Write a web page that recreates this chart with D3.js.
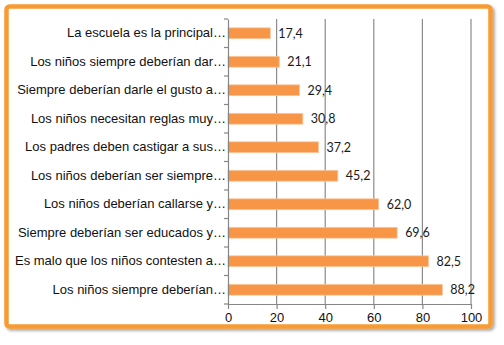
<!DOCTYPE html>
<html lang="es">
<head>
<meta charset="UTF-8">
<title>Bar chart</title>
<script src="https://d3js.org/d3.v7.min.js"></script>
<style>
  body { margin: 0; background: #fff; }
</style>
</head>
<body>
<svg width="504" height="345"></svg>
<script>
const categories = [
  "La escuela es la principal…",
  "Los niños siempre deberían dar…",
  "Siempre deberían darle el gusto a…",
  "Los niños necesitan reglas muy…",
  "Los padres deben castigar a sus…",
  "Los niños deberían ser siempre…",
  "Los niños deberían callarse y…",
  "Siempre deberían ser educados y…",
  "Es malo que los niños contesten a…",
  "Los niños siempre deberían…"
];
const values = [17.4, 21.1, 29.4, 30.8, 37.2, 45.2, 62.0, 69.6, 82.5, 88.2];
const xTicks = [0, 20, 40, 60, 80, 100];

const svg = d3.select("svg");
const margin = {left: 228, right: 33, top: 19, bottom: 41};
const W = 504, H = 345;

// frame with shadow
const defs = svg.append("defs");
const f = defs.append("filter").attr("id", "sh").attr("x", "-5%").attr("y", "-5%").attr("width", "115%").attr("height", "115%");
f.append("feDropShadow").attr("dx", 2).attr("dy", 2).attr("stdDeviation", 1.5).attr("flood-color", "#000").attr("flood-opacity", 0.35);

svg.append("rect")
  .attr("x", 6.5).attr("y", 6.5).attr("width", 484).attr("height", 320)
  .attr("rx", 3)
  .attr("fill", "#fff").attr("stroke", "#F79B33").attr("stroke-width", 4.5)
  .attr("filter", "url(#sh)");

const x = d3.scaleLinear().domain([0, 100]).range([margin.left, W - margin.right]);
const y = d3.scaleBand().domain(categories).range([margin.top, H - margin.bottom]).paddingInner(0.62).paddingOuter(0.31);
const yb = d3.scaleBand().domain(categories).range([margin.top, H - margin.bottom]);

// gridlines
svg.append("g").selectAll("line").data(xTicks.slice(1)).join("line")
  .attr("x1", d => x(d)).attr("x2", d => x(d))
  .attr("y1", margin.top).attr("y2", H - margin.bottom)
  .attr("stroke", "#8c8c8c").attr("stroke-width", 1.2);

// bars
svg.append("g").selectAll("rect").data(values).join("rect")
  .attr("x", x(0))
  .attr("y", (d, i) => y(categories[i]))
  .attr("width", d => x(d) - x(0))
  .attr("height", y.bandwidth())
  .attr("fill", "#F79646")
  .attr("stroke", "#FBC59A").attr("stroke-width", 0.8);

// value labels
svg.append("g").selectAll("text").data(values).join("text")
  .attr("x", d => x(d) + 8)
  .attr("y", (d, i) => yb(categories[i]) + yb.bandwidth() / 2)
  .attr("dy", "0.36em")
  .attr("font-family", "Lato, 'Open Sans', sans-serif")
  .attr("font-size", 12.5)
  .attr("fill", "#1a1a1a")
  .text(d => d.toFixed(1).replace(".", ","));

// y axis
const yAxis = svg.append("g")
  .attr("transform", `translate(${x(0)},0)`)
  .call(d3.axisLeft(yb).tickSize(0).tickPadding(2));
yAxis.select(".domain").attr("stroke", "#868686").attr("stroke-width", 1.2);
yAxis.selectAll("text")
  .attr("font-family", "'Liberation Sans', Arial, sans-serif")
  .attr("font-size", 13).attr("fill", "#111");
// band boundary ticks
svg.append("g").selectAll("line").data(d3.range(categories.length + 1)).join("line")
  .attr("x1", x(0) - 4).attr("x2", x(0))
  .attr("y1", i => margin.top + i * yb.step())
  .attr("y2", i => margin.top + i * yb.step())
  .attr("stroke", "#868686").attr("stroke-width", 1.2);

// x axis
const xAxis = svg.append("g")
  .attr("transform", `translate(0,${H - margin.bottom})`)
  .call(d3.axisBottom(x).tickValues(xTicks).tickSize(5).tickPadding(4).tickSizeOuter(0));
xAxis.select(".domain").attr("stroke", "#868686").attr("stroke-width", 1.2);
xAxis.selectAll(".tick line").attr("stroke", "#868686").attr("stroke-width", 1.2);
xAxis.selectAll("text")
  .attr("font-family", "'Liberation Sans', Arial, sans-serif")
  .attr("font-size", 13).attr("fill", "#111");
</script>
</body>
</html>
